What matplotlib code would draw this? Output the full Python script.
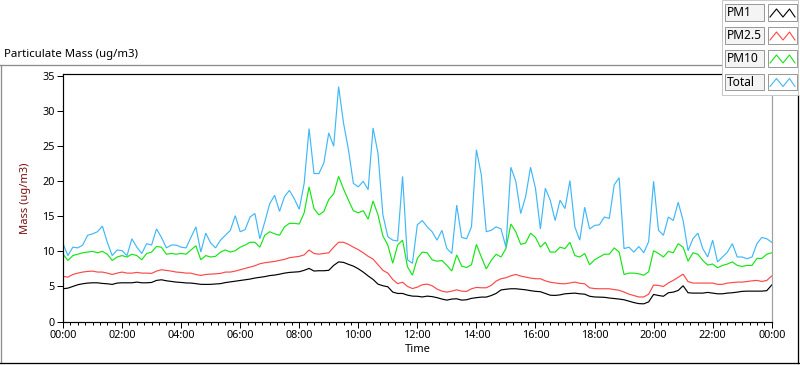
import numpy as np
import matplotlib.pyplot as plt
from matplotlib.lines import Line2D
from matplotlib.patches import Rectangle

plt.rcParams['font.family'] = ['Noto Sans', 'DejaVu Sans']

# one reading every 10 minutes, 00:00 to 24:00
step_min = 10

pm1 = [4.67, 4.76, 5.0, 5.24, 5.38, 5.48, 5.52, 5.52, 5.43, 5.38, 5.29, 5.48, 5.52, 5.52, 5.52, 5.62, 5.52, 5.52, 5.57, 5.86, 5.95, 5.81, 5.71, 5.62, 5.57,
       5.5, 5.48, 5.4, 5.3, 5.29, 5.3, 5.35, 5.4, 5.55, 5.65, 5.75, 5.86, 5.95, 6.05, 6.2, 6.3, 6.4, 6.55, 6.62, 6.75, 6.9, 7.0, 7.05, 7.1,
       7.3, 7.57, 7.2, 7.24, 7.24, 7.3, 8.0, 8.5, 8.43, 8.15, 7.9, 7.52, 7.05, 6.5, 6.0, 5.33, 5.1, 4.95, 4.2, 4.0, 4.0, 3.76, 3.62, 3.6,
       3.5, 3.62, 3.55, 3.4, 3.2, 3.05, 3.2, 3.24, 3.05, 3.1, 3.3, 3.4, 3.48, 3.48, 3.7, 4.0, 4.5, 4.6, 4.67, 4.67, 4.6, 4.52, 4.4, 4.3,
       4.25, 4.0, 3.75, 3.72, 3.8, 3.95, 4.0, 4.05, 3.95, 3.9, 3.6, 3.5, 3.48, 3.45, 3.35, 3.28, 3.2, 3.1, 2.9, 2.7, 2.55, 2.52, 2.8,
       3.86, 3.71, 3.6, 4.1, 4.19, 4.43, 5.1, 4.1, 4.05, 4.05, 4.05, 4.15, 4.05, 3.95, 3.95, 4.05, 4.1, 4.19, 4.3, 4.33, 4.33, 4.33, 4.33, 4.4, 5.2]

pm25 = [6.43, 6.33, 6.71, 6.9, 7.05, 7.14, 7.19, 7.05, 7.05, 6.9, 6.71, 6.9, 7.05, 6.9, 6.9, 7.0, 6.9, 6.9, 6.86, 7.19, 7.38, 7.29, 7.19, 7.05, 7.0,
        6.9, 6.9, 6.7, 6.57, 6.7, 6.76, 6.8, 6.86, 7.05, 7.05, 7.19, 7.38, 7.57, 7.76, 7.95, 8.24, 8.38, 8.48, 8.57, 8.71, 8.86, 9.1, 9.19, 9.29,
        9.5, 10.2, 9.7, 9.6, 9.7, 9.8, 10.6, 11.3, 11.3, 11.0, 10.6, 10.25, 9.8, 9.3, 8.9, 8.1, 7.3, 6.9, 6.0, 5.4, 5.6, 5.0, 4.7, 4.9,
        5.24, 5.33, 5.1, 4.62, 4.33, 4.19, 4.33, 4.52, 4.33, 4.29, 4.67, 4.86, 4.81, 4.81, 5.14, 5.76, 6.1, 6.24, 6.52, 6.71, 6.48, 6.33, 6.19, 6.1,
        6.1, 5.8, 5.6, 5.5, 5.4, 5.38, 5.5, 5.62, 5.45, 5.38, 4.8, 4.7, 4.67, 4.67, 4.67, 4.55, 4.45, 4.2, 3.9, 3.7, 3.5, 3.5, 3.9,
        5.2, 5.14, 5.0, 5.5, 5.86, 6.3, 6.75, 5.7, 5.48, 5.48, 5.48, 5.48, 5.48, 5.3, 5.3, 5.48, 5.55, 5.62, 5.62, 5.7, 5.8, 5.86, 5.71, 5.86, 6.5]

pm10 = [9.6, 8.7, 9.4, 9.6, 9.8, 9.9, 10.0, 9.8, 10.0, 9.6, 8.7, 9.2, 9.4, 9.2, 9.6, 9.4, 8.8, 9.7, 9.9, 10.7, 10.6, 9.6, 9.7, 9.6, 9.7,
        9.6, 10.2, 10.8, 8.8, 9.4, 9.2, 9.3, 9.9, 10.2, 9.9, 10.1, 10.6, 10.9, 11.3, 11.3, 10.6, 12.3, 12.8, 12.5, 12.3, 13.5, 14.0, 14.0, 13.9,
        15.5, 19.2, 16.1, 15.2, 15.7, 17.4, 18.2, 20.7, 18.9, 17.3, 15.8, 15.5, 15.8, 14.6, 17.2, 15.2, 12.2, 10.9, 8.3, 10.9, 11.6, 7.8, 6.6, 9.0,
        9.9, 9.8, 8.8, 8.6, 8.7, 8.0, 7.2, 9.5, 7.9, 7.7, 8.1, 11.0, 9.2, 7.5, 8.7, 9.6, 9.2, 10.4, 13.9, 12.8, 11.0, 11.2, 12.6, 12.0,
        10.6, 11.3, 9.9, 9.9, 10.6, 10.4, 11.3, 9.4, 9.2, 9.7, 8.1, 8.8, 9.2, 9.6, 9.6, 10.5, 9.9, 6.7, 6.9, 6.9, 6.8, 6.6, 7.1,
        10.1, 9.7, 9.2, 10.0, 9.8, 11.1, 10.6, 8.6, 9.8, 9.6, 8.7, 8.05, 8.2, 7.67, 8.0, 8.2, 8.5, 8.0, 7.86, 8.0, 8.0, 9.0, 9.0, 9.6, 9.8]

total = [11.1, 9.4, 10.6, 10.5, 10.9, 12.3, 12.5, 12.8, 13.6, 11.3, 9.4, 10.2, 10.1, 9.4, 11.8, 10.6, 9.7, 11.1, 10.9, 13.2, 12.0, 10.5, 10.9, 10.9, 10.6,
         10.5, 12.0, 13.5, 9.9, 12.6, 11.2, 10.5, 11.6, 12.3, 13.0, 15.1, 12.8, 13.1, 14.9, 15.4, 11.8, 14.2, 16.8, 18.0, 15.7, 17.8, 18.7, 17.5, 16.0,
         19.7, 27.5, 21.1, 21.1, 22.6, 26.9, 25.0, 33.5, 28.3, 24.5, 19.7, 19.2, 20.0, 18.8, 27.6, 24.0, 15.2, 12.1, 11.6, 11.5, 20.7, 8.8, 8.3, 13.8,
         14.4, 13.5, 12.8, 11.6, 13.0, 10.4, 9.7, 16.6, 12.0, 11.8, 13.5, 24.5, 20.9, 12.8, 13.0, 13.5, 13.2, 10.6, 22.0, 20.0, 15.4, 17.8, 22.0, 19.0,
         13.2, 19.0, 17.3, 14.4, 17.3, 16.1, 20.1, 13.5, 11.6, 16.3, 13.2, 13.7, 13.8, 14.9, 14.7, 19.5, 20.5, 10.4, 10.6, 9.9, 10.7, 9.8, 11.4,
         20.0, 13.0, 12.3, 14.9, 14.4, 17.0, 14.4, 10.1, 11.8, 12.6, 10.4, 9.2, 11.6, 8.5, 9.2, 9.9, 11.1, 9.2, 9.2, 8.95, 9.2, 11.1, 12.0, 11.8, 11.3]

series_names = ["PM1", "PM2.5", "PM10", "Total"]
series_colors = ["#000000", "#ff4848", "#14e614", "#40b8f8"]
tick_labels = ["00:00", "02:00", "04:00", "06:00", "08:00", "10:00", "12:00",
               "14:00", "16:00", "18:00", "20:00", "22:00", "00:00"]

hours = np.arange(len(total)) * step_min / 60.0

W, H = 800, 365
fig = plt.figure(figsize=(W / 100, H / 100), dpi=100)
fig.patch.set_facecolor("white")


def fx(px):
    return px / W


def fy(py):
    return 1 - py / H


px_lw = 0.72  # one screen pixel in points

ax = fig.add_axes([fx(63), fy(321.5), fx(771.7) - fx(63), fy(74) - fy(321.5)])

for vals, name, col in zip([pm1, pm25, pm10, total], series_names, series_colors):
    ax.plot(hours, vals, color=col, lw=0.85, label=name, solid_joinstyle="miter")

ax.set_xlim(0, 24)
ax.set_ylim(0, 35.3)
ax.set_yticks(range(0, 36, 5))
ax.set_xticks(range(0, 25, 2))
ax.set_xticklabels(tick_labels)
ax.set_xticks(np.arange(0, 24.01, 0.25), minor=True)

for s in ["left", "bottom", "top"]:
    ax.spines[s].set_color("black")
    ax.spines[s].set_linewidth(px_lw * 1.2)
ax.spines["right"].set_color("#a0a0a0")
ax.spines["right"].set_linewidth(px_lw * 1.2)

ax.tick_params(axis="both", which="major", direction="out", length=4, width=px_lw,
               labelsize=7.8, colors="black", pad=2)
ax.tick_params(axis="x", which="minor", direction="out", length=2.2, width=px_lw)
ax.tick_params(axis="y", which="minor", length=0)

ax.set_xlabel("Time", fontsize=8, labelpad=2)
ax.set_ylabel("Mass (ug/m3)", fontsize=8, color="#7a1010", labelpad=8)

# panel title and frame
fig.text(fx(4), fy(55), "Particulate Mass (ug/m3)", fontsize=8.2, ha="left", va="center")
fig.add_artist(Line2D([fx(0), fx(722)], [fy(65), fy(65)], color="#8c8c8c", lw=px_lw * 1.3))
fig.add_artist(Line2D([fx(1), fx(1)], [fy(65), fy(363)], color="#8c8c8c", lw=px_lw * 1.3))
fig.add_artist(Line2D([fx(0), fx(799)], [fy(363), fy(363)], color="black", lw=px_lw * 1.3))
fig.add_artist(Line2D([fx(798), fx(798)], [fy(95), fy(363)], color="black", lw=px_lw * 1.3))

# legend block
fig.add_artist(Rectangle((fx(722), fy(95)), fx(798) - fx(722), fy(0) - fy(95),
                         facecolor="white", edgecolor="#c8c8c8", lw=px_lw, zorder=5))
row_tops = [4, 27, 50, 73.5]
for top, name, col in zip(row_tops, series_names, series_colors):
    fig.add_artist(Rectangle((fx(725), fy(top + 16.5)), fx(763.5) - fx(725), fy(top) - fy(top + 16.5),
                             facecolor="#f4f4f4", edgecolor="#9a9a9a", lw=px_lw, zorder=6))
    fig.text(fx(727), fy(top + 8.5), name, fontsize=8.6, ha="left", va="center", zorder=7)
    fig.add_artist(Rectangle((fx(767.5), fy(top + 16.5)), fx(797) - fx(767.5), fy(top) - fy(top + 16.5),
                             facecolor="white", edgecolor="#9a9a9a", lw=px_lw, zorder=6))
    zx = [770, 776.5, 783, 789.5, 795]
    zy = [top + 13, top + 5, top + 13, top + 5, top + 13]
    fig.add_artist(Line2D([fx(v) for v in zx], [fy(v) for v in zy], color=col, lw=0.8, zorder=7))

fig.savefig("out.png", dpi=100, facecolor="white")
